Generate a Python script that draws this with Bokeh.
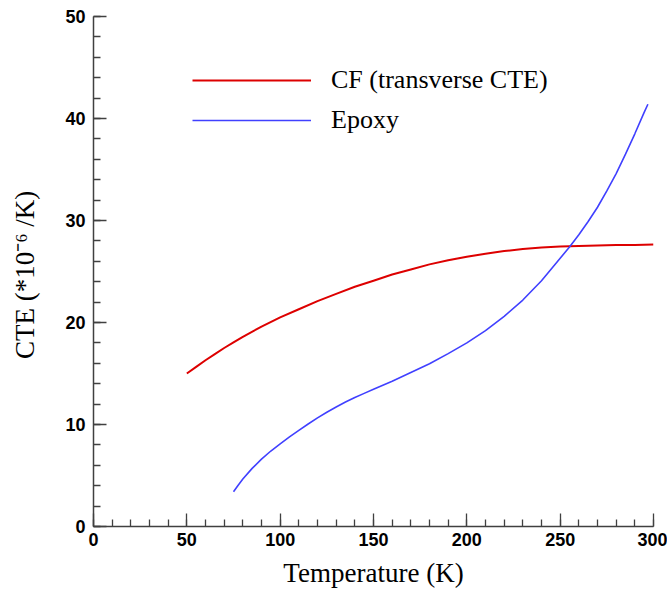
from bokeh.plotting import figure
from bokeh.models import Range1d, SingleIntervalTicker, Legend, LegendItem
from bokeh.embed import file_html
from bokeh.resources import INLINE

# CF (transverse CTE)
cf_temp = [50, 55, 60, 65, 70, 75, 80, 90, 100, 110, 120, 130, 140, 150, 160, 170,
           180, 190, 200, 210, 220, 230, 240, 250, 260, 270, 280, 290, 300]
cf_cte = [15.0, 15.65, 16.3, 16.9, 17.5, 18.05, 18.6, 19.6, 20.5, 21.3, 22.1, 22.8,
          23.5, 24.1, 24.7, 25.2, 25.7, 26.1, 26.45, 26.75, 27.0, 27.2, 27.35,
          27.45, 27.5, 27.55, 27.6, 27.6, 27.65]

# Epoxy
ep_temp = [75, 77.5, 80, 85, 90, 95, 100, 105, 110, 115, 120, 125, 130, 135, 140,
           145, 150, 160, 170, 180, 190, 200, 210, 220, 230, 240, 250, 255, 260,
           265, 270, 275, 280, 285, 290, 295, 297]
ep_cte = [3.4, 4.05, 4.65, 5.7, 6.6, 7.4, 8.1, 8.78, 9.43, 10.05, 10.65, 11.2,
          11.72, 12.2, 12.65, 13.05, 13.45, 14.25, 15.1, 15.95, 16.95, 18.0, 19.2,
          20.6, 22.2, 24.1, 26.3, 27.4, 28.6, 29.9, 31.3, 32.9, 34.6, 36.5, 38.5,
          40.6, 41.4]

x_label = "Temperature (K)"
y_label = "CTE  (*10\u207b\u2076 /K)"
series_names = ["CF (transverse CTE)", "Epoxy"]

p = figure(width=667, height=592, output_backend="svg", toolbar_location=None,
           x_range=Range1d(0, 300), y_range=Range1d(0, 50),
           min_border_left=93, min_border_right=14, min_border_top=16,
           min_border_bottom=66)
p.grid.visible = False
p.outline_line_color = None
p.background_fill_color = "white"
p.border_fill_color = "white"

r1 = p.line(cf_temp, cf_cte, line_color="#dd0000", line_width=2)
r2 = p.line(ep_temp, ep_cte, line_color="#4040ff", line_width=1.6)

axis_color = "#404040"
for ax in (p.xaxis[0], p.yaxis[0]):
    ax.axis_line_color = axis_color
    ax.axis_line_width = 1.5
    ax.major_tick_line_color = axis_color
    ax.minor_tick_line_color = axis_color
    ax.major_tick_line_width = 1.3
    ax.minor_tick_line_width = 1.3
    ax.major_tick_in = 13
    ax.major_tick_out = 0
    ax.minor_tick_in = 7
    ax.minor_tick_out = 0
    ax.major_label_text_font = "Liberation Sans"
    ax.major_label_text_font_size = "18px"
    ax.major_label_text_font_style = "bold"
    ax.major_label_text_color = "black"
    ax.axis_label_text_font = "Liberation Serif"
    ax.axis_label_text_font_size = "27px"
    ax.axis_label_text_font_style = "normal"
    ax.axis_label_text_color = "black"

p.xaxis[0].ticker = SingleIntervalTicker(interval=50, num_minor_ticks=5)
p.yaxis[0].ticker = SingleIntervalTicker(interval=10, num_minor_ticks=5)
p.xaxis[0].axis_label = x_label
p.yaxis[0].axis_label = y_label
p.xaxis[0].major_label_standoff = 6
p.yaxis[0].major_label_standoff = 8
p.xaxis[0].axis_label_standoff = 9
p.yaxis[0].axis_label_standoff = 22

legend = Legend(items=[LegendItem(label=series_names[0], renderers=[r1]),
                       LegendItem(label=series_names[1], renderers=[r2])],
                location=(99, 386), glyph_width=119, glyph_height=40,
                label_height=40, spacing=0, padding=0, margin=0,
                label_standoff=20, border_line_color=None,
                background_fill_alpha=0,
                label_text_font="Liberation Serif", label_text_font_size="26px",
                label_text_color="black")
p.add_layout(legend)

open("out.html", "w").write(file_html(p, INLINE))
